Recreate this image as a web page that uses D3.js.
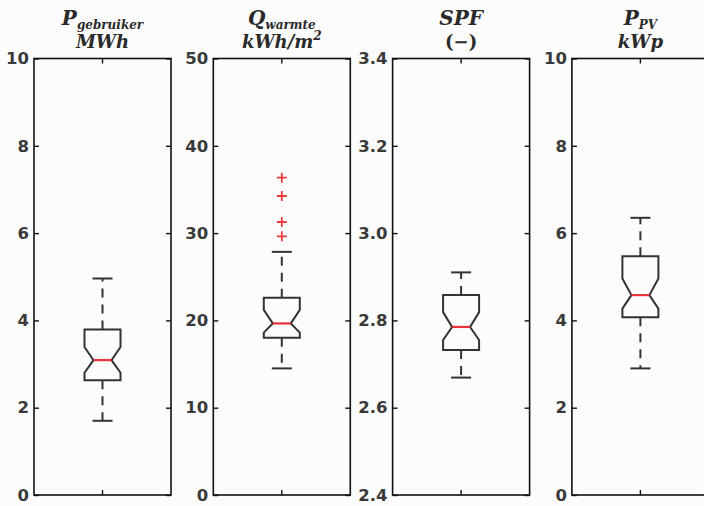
<!DOCTYPE html>
<html><head><meta charset="utf-8">
<script src="https://cdn.jsdelivr.net/npm/d3@7/dist/d3.min.js"></script>
<style>
html,body{margin:0;padding:0;background:#fcfcfc;}
svg{display:block;}
</style></head>
<body>
<svg id="chart" width="704" height="506"></svg>
<script>
// ---- data ----
const titleMain = ["P", "Q", "SPF", "P"];
const titleSub = ["gebruiker", "warmte", "", "PV"];
const titleUnit = ["MWh", "kWh/m", "(\u2212)", "kWp"];
const titleUnitSup = ["", "2", "", ""];
const yDomains = [[0, 10], [0, 50], [2.4, 3.4], [0, 10]];
const yTicks = [[0, 2, 4, 6, 8, 10], [0, 10, 20, 30, 40, 50], [2.4, 2.6, 2.8, 3.0, 3.2, 3.4], [0, 2, 4, 6, 8, 10]];
const yTickFormat = ["d", "d", ".1f", "d"];
const whiskerLow = [1.70, 14.5, 2.669, 2.90];
const q1 = [2.63, 18.0, 2.732, 4.07];
const median = [3.09, 19.65, 2.785, 4.58];
const q3 = [3.79, 22.6, 2.858, 5.47];
const whiskerHigh = [4.96, 27.85, 2.910, 6.35];
const notchLow = [2.80, 18.6, 2.755, 4.27];
const notchHigh = [3.39, 21.2, 2.819, 4.96];
const outliers = [[], [36.35, 34.25, 31.27, 29.63], [], []];

// ---- layout ----
(function () {
const svg = d3.select("#chart");
const plotTop = 58.5, plotBottom = 495, panelW = 137, step = 179.3, left0 = 34;
const boxW = 36, capW = 20, tickLen = 5;
const ink = "#333", spine = "#111";

titleMain.forEach((t, i) => {
  const x0 = left0 + i * step;
  const xs = d3.scaleBand().domain([0]).range([x0, x0 + panelW]);
  const cx = xs(0) + xs.bandwidth() / 2;
  const y = d3.scaleLinear().domain(yDomains[i]).range([plotBottom, plotTop]);
  const g = svg.append("g");

  g.append("rect").attr("x", x0).attr("y", plotTop).attr("width", panelW).attr("height", plotBottom - plotTop)
    .attr("fill", "none").attr("stroke", spine).attr("stroke-width", 1.6);

  const axL = d3.axisLeft(y).tickValues(yTicks[i]).tickSize(-tickLen).tickPadding(5)
    .tickFormat(d3.format(yTickFormat[i]));
  const gl = g.append("g").attr("transform", `translate(${x0},0)`).call(axL);
  gl.select(".domain").remove();
  gl.selectAll("line").attr("stroke", spine).attr("stroke-width", 1.4);
  gl.selectAll("text").attr("font-family", "DejaVu Sans").attr("font-weight", "bold")
    .attr("font-size", 16.5).attr("fill", "#3a3a3a");

  const axR = d3.axisRight(y).tickValues(yTicks[i]).tickSize(-tickLen).tickFormat("");
  const gr = g.append("g").attr("transform", `translate(${x0 + panelW},0)`).call(axR);
  gr.select(".domain").remove();
  gr.selectAll("line").attr("stroke", spine).attr("stroke-width", 1.4);

  const axB = d3.axisBottom(xs).tickSize(-tickLen).tickFormat("");
  const gb = g.append("g").attr("transform", `translate(0,${plotBottom})`).call(axB);
  gb.select(".domain").remove();
  gb.selectAll("line").attr("stroke", spine).attr("stroke-width", 1.4);
  const axT = d3.axisTop(xs).tickSize(-tickLen).tickFormat("");
  const gt = g.append("g").attr("transform", `translate(0,${plotTop})`).call(axT);
  gt.select(".domain").remove();
  gt.selectAll("line").attr("stroke", spine).attr("stroke-width", 1.4);

  g.append("line").attr("x1", cx).attr("x2", cx).attr("y1", y(q3[i])).attr("y2", y(whiskerHigh[i]))
    .attr("stroke", ink).attr("stroke-width", 2).attr("stroke-dasharray", "9,7");
  g.append("line").attr("x1", cx).attr("x2", cx).attr("y1", y(q1[i])).attr("y2", y(whiskerLow[i]))
    .attr("stroke", ink).attr("stroke-width", 2).attr("stroke-dasharray", "9,7");
  [whiskerHigh[i], whiskerLow[i]].forEach(v => {
    g.append("line").attr("x1", cx - capW / 2).attr("x2", cx + capW / 2).attr("y1", y(v)).attr("y2", y(v))
      .attr("stroke", ink).attr("stroke-width", 2);
  });

  const l = cx - boxW / 2, r = cx + boxW / 2, n = boxW / 4;
  const pts = [
    [l, y(q1[i])], [l, y(notchLow[i])], [l + n, y(median[i])], [l, y(notchHigh[i])], [l, y(q3[i])],
    [r, y(q3[i])], [r, y(notchHigh[i])], [r - n, y(median[i])], [r, y(notchLow[i])], [r, y(q1[i])]
  ];
  g.append("path").attr("d", d3.line()(pts) + "Z").attr("fill", "none")
    .attr("stroke", ink).attr("stroke-width", 2).attr("stroke-linejoin", "miter");
  g.append("line").attr("x1", l + n).attr("x2", r - n).attr("y1", y(median[i])).attr("y2", y(median[i]))
    .attr("stroke", "#e8333a").attr("stroke-width", 2.2);

  outliers[i].forEach(v => {
    const yy = y(v);
    g.append("path").attr("d", `M${cx - 5},${yy}H${cx + 5}M${cx},${yy - 5}V${yy + 5}`)
      .attr("stroke", "#ee3b3b").attr("stroke-width", 1.8).attr("fill", "none");
  });

  const t1 = svg.append("text").attr("x", cx).attr("y", 25).attr("text-anchor", "middle")
    .attr("font-family", "DejaVu Serif").attr("font-style", "italic").attr("font-weight", "bold").attr("fill", "#2a2a2a");
  t1.append("tspan").attr("font-size", 20).text(t);
  if (titleSub[i]) t1.append("tspan").attr("font-size", 12).attr("dy", 4).text(titleSub[i]);
  const t2 = svg.append("text").attr("x", cx).attr("y", 48).attr("text-anchor", "middle")
    .attr("font-family", "DejaVu Serif").attr("font-style", titleUnit[i].startsWith("(") ? "normal" : "italic")
    .attr("font-weight", "bold").attr("fill", "#2a2a2a");
  t2.append("tspan").attr("font-size", 18).text(titleUnit[i]);
  if (titleUnitSup[i]) t2.append("tspan").attr("font-size", 12).attr("dy", -8).text(titleUnitSup[i]);
});
})();
</script>
</body></html>
